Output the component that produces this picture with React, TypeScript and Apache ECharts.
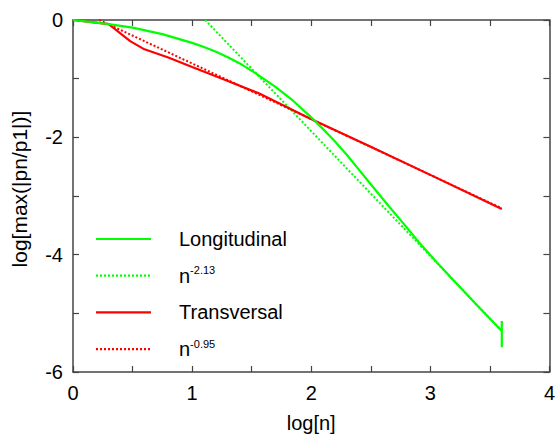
import React, { useEffect, useRef } from "react";
import * as echarts from "echarts";

const longX = [0, 0.3, 0.5, 0.75, 1.0, 1.1, 1.2, 1.3, 1.4, 1.55, 1.7, 1.85, 2.0, 2.1, 2.2, 2.3, 2.4, 2.5, 2.65, 2.8, 2.9, 3.05, 3.2, 3.4, 3.6, 3.6, 3.6];
const longY = [0, -0.07, -0.13, -0.24, -0.39, -0.46, -0.54, -0.635, -0.74, -0.93, -1.14, -1.38, -1.66, -1.86, -2.07, -2.3, -2.55, -2.8, -3.17, -3.53, -3.78, -4.12, -4.45, -4.88, -5.3, -5.13, -5.58];
const longFitX = [1.11, 3.6];
const longFitY = [0, -5.3];
const transX = [0, 0.3, 0.48, 0.6, 0.8, 1.0, 1.29, 1.56, 1.98, 2.5, 3.0, 3.6];
const transY = [0, -0.07, -0.36, -0.5, -0.64, -0.8, -1.03, -1.25, -1.67, -2.16, -2.64, -3.22];
const transFitX = [0.22, 3.6];
const transFitY = [0, -3.21];

const seriesNames = ["Longitudinal", "n^-2.13", "Transversal", "n^-0.95"];
const xTicks = { min: 0, max: 4, step: 0.5 };
const yTicks = { min: -6, max: 0, step: 1 };

const pairs = (xs: number[], ys: number[]) => xs.map((x, i) => [x, ys[i]]);

const FONT = "'Liberation Sans', Arial, sans-serif";
const AXIS_COLOR = "#444";
const GREEN = "#00ff00";
const RED = "#ff0000";
const DOT = [2, 2];

export default function App() {
  const ref = useRef<HTMLDivElement>(null);
  useEffect(() => {
    if (!ref.current) return;
    const chart = echarts.init(ref.current, undefined, { renderer: "svg" });
    const axisCommon = {
      type: "value" as const,
      axisLine: { show: true, onZero: false, lineStyle: { color: AXIS_COLOR, width: 1.5 } },
      axisTick: { show: true, inside: true, length: 6, lineStyle: { color: AXIS_COLOR, width: 1.2 } },
      splitLine: { show: false },
    };
    const legendColors = [GREEN, GREEN, RED, RED];
    const legendDashed = [false, true, false, true];
    const legendTop = 239;
    const legendStep = 36.7;
    const legendEls: any[] = [];
    seriesNames.forEach((name, i) => {
      const y = legendTop + i * legendStep;
      legendEls.push({
        type: "line",
        shape: { x1: 96, y1: y, x2: 151, y2: y },
        style: { stroke: legendColors[i], lineWidth: 2.2, lineDash: legendDashed[i] ? DOT : null },
        silent: true,
      });
      const isPow = name.startsWith("n^");
      legendEls.push({
        type: "text",
        x: 179,
        y: y,
        style: {
          text: isPow ? "{b|n}{s|" + name.slice(2) + "}" : "{b|" + name + "}",
          verticalAlign: "middle",
          align: "left",
          fontFamily: FONT,
          fill: "#000",
          rich: {
            b: { fontSize: 20, fontFamily: FONT, fill: "#000", lineHeight: 22 },
            s: { fontSize: 11, fontFamily: FONT, fill: "#000", lineHeight: 22, verticalAlign: "top", padding: [0, 0, 14, 0] },
          },
        },
        silent: true,
      });
    });
    chart.setOption({
      animation: false,
      textStyle: { fontFamily: FONT },
      grid: { left: 73, right: 7, top: 20, bottom: 58, containLabel: false },
      xAxis: [
        {
          ...axisCommon,
          position: "bottom",
          min: xTicks.min,
          max: xTicks.max,
          interval: xTicks.step,
          name: "log[n]",
          nameLocation: "middle",
          nameGap: 41,
          nameTextStyle: { fontSize: 20, color: "#000", fontFamily: FONT },
          axisLabel: {
            fontSize: 20,
            color: "#000",
            margin: 11,
            fontFamily: FONT,
            formatter: (v: number) => (Number.isInteger(v) ? String(v) : ""),
          },
        },
        {
          ...axisCommon,
          position: "top",
          min: xTicks.min,
          max: xTicks.max,
          interval: xTicks.step,
          axisLabel: { show: false },
        },
      ],
      yAxis: [
        {
          ...axisCommon,
          position: "left",
          min: yTicks.min,
          max: yTicks.max,
          interval: yTicks.step,
          name: "log[max(|pn/p1|)]",
          nameLocation: "middle",
          nameGap: 43,
          nameTextStyle: { fontSize: 21, color: "#000", fontFamily: FONT, padding: [0, 0, 0, 14] },
          axisLabel: {
            fontSize: 20,
            color: "#000",
            margin: 10,
            fontFamily: FONT,
            formatter: (v: number) => (Math.round(v) % 2 === 0 ? String(v) : ""),
          },
        },
        {
          ...axisCommon,
          position: "right",
          min: yTicks.min,
          max: yTicks.max,
          interval: yTicks.step,
          axisLabel: { show: false },
        },
      ],
      graphic: legendEls,
      series: [
        {
          name: seriesNames[0],
          type: "line",
          data: pairs(longX, longY),
          showSymbol: false,
          symbol: "none",
          lineStyle: { color: GREEN, width: 2.2 },
          itemStyle: { color: GREEN },
          z: 4,
        },
        {
          name: seriesNames[1],
          type: "line",
          data: pairs(longFitX, longFitY),
          showSymbol: false,
          symbol: "none",
          lineStyle: { color: GREEN, width: 2, type: DOT },
          itemStyle: { color: GREEN },
          z: 2,
        },
        {
          name: seriesNames[2],
          type: "line",
          data: pairs(transX, transY),
          showSymbol: false,
          symbol: "none",
          lineStyle: { color: RED, width: 2.2 },
          itemStyle: { color: RED },
          z: 3,
        },
        {
          name: seriesNames[3],
          type: "line",
          data: pairs(transFitX, transFitY),
          showSymbol: false,
          symbol: "none",
          lineStyle: { color: RED, width: 2, type: DOT },
          itemStyle: { color: RED },
          z: 2,
        },
      ],
    });
    return () => chart.dispose();
  }, []);
  return <div ref={ref} style={{ width: 558, height: 438, position: "absolute", left: 0, top: 0 }} />;
}
